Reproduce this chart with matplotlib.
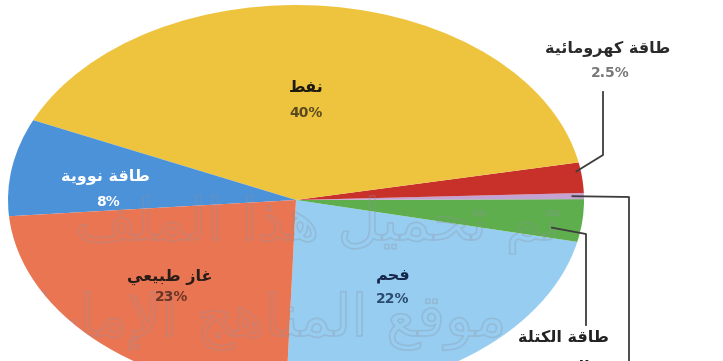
import matplotlib
matplotlib.use("Agg")
import numpy as np
import matplotlib.pyplot as plt
from matplotlib.lines import Line2D
from matplotlib.patches import Circle
import matplotlib.patheffects as pe

# ---------------------------------------------------------------- data
sources = ["فحم", "طاقة الكتلة الحيوية", "", "طاقة كهرومائية",
           "نفط", "طاقة نووية", "غاز طبيعي"]
shares = [22, 3.5, 0.5, 2.5, 40, 8, 23]
colors = ["#97cdf1", "#5fae4e", "#c4a3d3", "#c8312a",
          "#eec43f", "#4b92d9", "#ea7553"]
watermark = ["تم تحميل هذا الملف", "موقع المناهج الإماراتية"]

# ------------------------------------------------ minimal Arabic shaping
# (isolated, final, initial, medial) presentation forms
FORMS = {
    "ا": ("\uFE8D", "\uFE8E", None, None),
    "إ": ("\uFE87", "\uFE88", None, None),
    "ب": ("\uFE8F", "\uFE90", "\uFE91", "\uFE92"),
    "ة": ("\uFE93", "\uFE94", None, None),
    "ت": ("\uFE95", "\uFE96", "\uFE97", "\uFE98"),
    "ج": ("\uFE9D", "\uFE9E", "\uFE9F", "\uFEA0"),
    "ح": ("\uFEA1", "\uFEA2", "\uFEA3", "\uFEA4"),
    "ذ": ("\uFEAB", "\uFEAC", None, None),
    "ر": ("\uFEAD", "\uFEAE", None, None),
    "ز": ("\uFEAF", "\uFEB0", None, None),
    "س": ("\uFEB1", "\uFEB2", "\uFEB3", "\uFEB4"),
    "ط": ("\uFEC1", "\uFEC2", "\uFEC3", "\uFEC4"),
    "ع": ("\uFEC9", "\uFECA", "\uFECB", "\uFECC"),
    "غ": ("\uFECD", "\uFECE", "\uFECF", "\uFED0"),
    "ف": ("\uFED1", "\uFED2", "\uFED3", "\uFED4"),
    "ق": ("\uFED5", "\uFED6", "\uFED7", "\uFED8"),
    "ك": ("\uFED9", "\uFEDA", "\uFEDB", "\uFEDC"),
    "ل": ("\uFEDD", "\uFEDE", "\uFEDF", "\uFEE0"),
    "م": ("\uFEE1", "\uFEE2", "\uFEE3", "\uFEE4"),
    "ن": ("\uFEE5", "\uFEE6", "\uFEE7", "\uFEE8"),
    "ه": ("\uFEE9", "\uFEEA", "\uFEEB", "\uFEEC"),
    "و": ("\uFEED", "\uFEEE", None, None),
    "ي": ("\uFEF1", "\uFEF2", "\uFEF3", "\uFEF4"),
    "ئ": ("\uFE89", "\uFE8A", "\uFE8B", "\uFE8C"),
}
LAM_ALEF = {"ا": ("\uFEFB", "\uFEFC"), "إ": ("\uFEF9", "\uFEFA")}


def dual(ch):
    return ch in FORMS and FORMS[ch][2] is not None


def shape(text):
    """Join Arabic letters into presentation forms, in visual order."""
    out = []
    chars = list(text)
    i = 0
    while i < len(chars):
        ch = chars[i]
        prev = chars[i - 1] if i > 0 else ""
        nxt = chars[i + 1] if i + 1 < len(chars) else ""
        if ch not in FORMS:
            out.append(ch)
            i += 1
            continue
        join_prev = dual(prev)
        if ch == "ل" and nxt in LAM_ALEF:
            out.append(LAM_ALEF[nxt][1 if join_prev else 0])
            i += 2
            continue
        join_next = dual(ch) and nxt in FORMS
        iso, fin, ini, med = FORMS[ch]
        if join_prev and join_next:
            out.append(med)
        elif join_prev:
            out.append(fin)
        elif join_next:
            out.append(ini)
        else:
            out.append(iso)
        i += 1
    return "".join(reversed(out))


# ---------------------------------------------------------------- figure
W, H = 723, 361
fig = plt.figure(figsize=(W / 100, H / 100), dpi=100)
fig.patch.set_facecolor("white")


def P(x, y):
    """pixel position (from top-left) -> figure fraction"""
    return x / W, 1 - y / H


# the pie is drawn in a unit-circle axes stretched into an ellipse
cx, cy, rx, ry = 296, 200, 288, 195
ax = fig.add_axes([(cx - rx) / W, (H - cy - ry) / H, 2 * rx / W, 2 * ry / H])
wedges, _ = ax.pie(shares, colors=colors, startangle=268, counterclock=True,
                   radius=1, wedgeprops=dict(linewidth=0))
ax.set_aspect("auto")
ax.set_xlim(-1, 1)
ax.set_ylim(-1, 1)
ax.axis("off")

# faint outlined watermark, visible only over the pie
pie_clip = Circle((0, 0), 1, transform=ax.transData)
for txt, right, base in [(watermark[0], 562, 240), (watermark[1], 508, 336)]:
    t = fig.text(*P(right, base), shape(txt), family="DejaVu Sans",
                 fontsize=42, color="none", ha="right", va="baseline",
                 zorder=3)
    t.set_path_effects([pe.Stroke(linewidth=1.2,
                                  foreground=(0.55, 0.57, 0.62, 0.3))])
    t.set_clip_path(pie_clip)

# ------------------------------------------------------------- labels
lab_font = dict(family="DejaVu Sans", fontweight="bold", ha="center",
                va="center", zorder=6)


def label(i, xy_name, xy_pct, c_name, c_pct):
    fig.text(*P(*xy_name), shape(sources[i]), color=c_name, fontsize=11.5,
             **lab_font)
    fig.text(*P(*xy_pct), f"{shares[i]:g}%", color=c_pct, fontsize=10,
             **lab_font)


label(4, (306, 87), (306, 113), "#1e1a10", "#5a4a1e")
label(5, (105, 176), (108, 202), "white", "white")
label(6, (170, 277), (172, 297), "#2a1d18", "#6b3524")
label(0, (393, 276), (393, 299), "#16284a", "#2b4b70")
label(3, (608, 49), (610, 73), "#2b2b2b", "#777777")
fig.text(*P(563, 338), shape("طاقة الكتلة"), color="#222222", fontsize=11.5,
         **lab_font)
fig.text(*P(563, 367), shape("الحيوية"), color="#222222", fontsize=11.5,
         **lab_font)


# ------------------------------------------------------- leader lines
def wedge_point(w, r=0.97, shift=0.0):
    ang = np.deg2rad((w.theta1 + w.theta2) / 2 + shift)
    disp = ax.transData.transform((r * np.cos(ang), r * np.sin(ang)))
    fx, fy = fig.transFigure.inverted().transform(disp)
    return fx * W, (1 - fy) * H


def leader(pts):
    xs, ys = zip(*[P(*p) for p in pts])
    fig.add_artist(Line2D(xs, ys, color="#3d3d3d", lw=1.3,
                          transform=fig.transFigure, zorder=5))


leader([wedge_point(wedges[3], 0.985, 2), (603, 155), (603, 92)])
leader([wedge_point(wedges[2], 0.96), (629, 197), (629, 365)])
leader([wedge_point(wedges[1], 0.9, -3), (586, 234), (586, 325)])

fig.savefig("out.png", dpi=100, facecolor="white")
